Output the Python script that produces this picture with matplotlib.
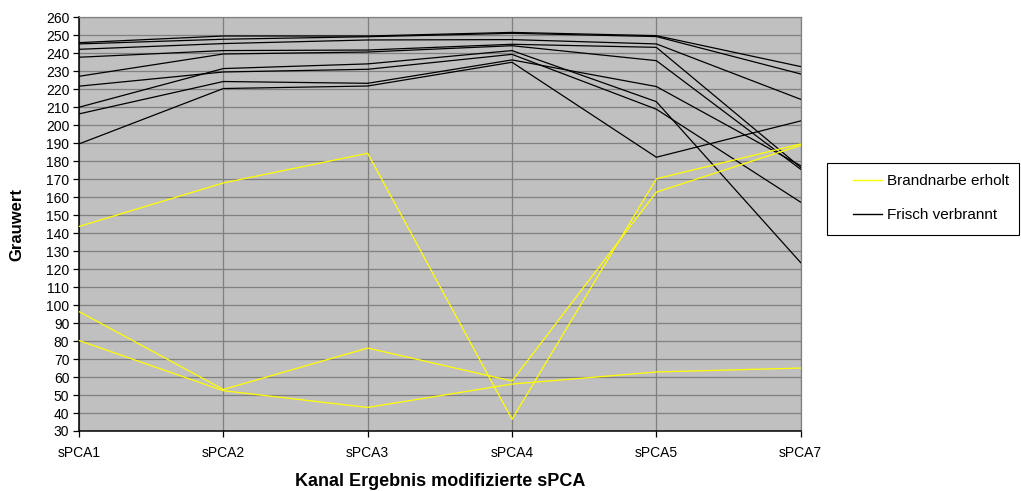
import matplotlib
matplotlib.use("Agg")
import matplotlib.pyplot as plt
from matplotlib.lines import Line2D
from matplotlib.patches import Rectangle

plt.rcParams['font.family'] = ['Liberation Sans', 'DejaVu Sans']

channels = ["sPCA1", "sPCA2", "sPCA3", "sPCA4", "sPCA5", "sPCA7"]

# Grey values of recovered burn scars (yellow)
recovered_1 = [143.7, 167.9, 184.4, 36.5, 170.2, 189.6]
recovered_2 = [96.4, 53.1, 76.1, 57.8, 162.8, 188.8]
recovered_3 = [80.3, 52.4, 43.1, 56.1, 62.8, 65.0]

# Grey values of freshly burnt areas (black)
fresh_1 = [245.9, 249.6, 249.6, 251.6, 249.8, 232.6]
fresh_2 = [245.2, 247.8, 249.2, 251.1, 249.3, 228.5]
fresh_3 = [242.2, 245.4, 247.4, 247.6, 245.2, 214.4]
fresh_4 = [237.8, 241.5, 241.8, 245.0, 243.3, 176.5]
fresh_5 = [227.2, 239.6, 240.7, 244.2, 235.9, 175.5]
fresh_6 = [221.7, 229.6, 231.1, 239.4, 208.9, 157.2]
fresh_7 = [210.0, 231.5, 234.1, 241.5, 213.1, 123.6]
fresh_8 = [206.3, 224.3, 223.3, 236.3, 221.5, 177.5]
fresh_9 = [189.6, 220.4, 221.8, 235.0, 182.2, 202.4]

recovered = [recovered_1, recovered_2, recovered_3]
fresh = [fresh_1, fresh_2, fresh_3, fresh_4, fresh_5, fresh_6, fresh_7, fresh_8, fresh_9]

y_ticks = list(range(30, 261, 10))

W, H = 1021, 491
fig = plt.figure(figsize=(W / 100, H / 100), dpi=100)
ax = fig.add_axes([79 / W, 1 - 431 / H, 721.7 / W, 413.7 / H])
ax.set_facecolor("#C0C0C0")

x = list(range(len(channels)))
for s in fresh:
    ax.plot(x, s, color="black", lw=0.9, zorder=3)
for s in recovered:
    ax.plot(x, s, color="#FFFF00", lw=0.9, zorder=3)

ax.set_xlim(0, len(channels) - 1)
ax.set_ylim(30, 260)
ax.set_yticks(y_ticks)
ax.set_xticks(x)
ax.set_xticklabels(channels)
ax.grid(True, color="#808080", lw=0.9, zorder=1)
ax.set_axisbelow(True)

for side in ("top", "right"):
    ax.spines[side].set_color("#808080")
    ax.spines[side].set_linewidth(0.9)
for side in ("left", "bottom"):
    ax.spines[side].set_color("black")
    ax.spines[side].set_linewidth(1.1)

ax.tick_params(axis="both", direction="out", length=4, width=0.9,
               labelsize=10, colors="black", pad=3)
ax.tick_params(axis="x", pad=7)

ax.set_ylabel("Grauwert", fontsize=12, fontweight="bold")
ax.yaxis.set_label_coords(-55 / 721.7, 0.5)
fig.text(440 / W, 1 - 481 / H, "Kanal Ergebnis modifizierte sPCA",
         fontsize=13, fontweight="bold", ha="center", va="center")

# Legend box
fig.patches.append(Rectangle((827 / W, 1 - 235 / H), 192 / W, 72 / H,
                             transform=fig.transFigure, facecolor="white",
                             edgecolor="black", lw=0.8, zorder=0))
handles = [Line2D([], [], color="#FFFF00", lw=1.0),
           Line2D([], [], color="black", lw=1.0)]
fig.legend(handles, ["Brandnarbe erholt", "Frisch verbrannt"],
           loc="center left", bbox_to_anchor=(853 / W, 1 - 198 / H),
           frameon=False, fontsize=11, borderpad=0, borderaxespad=0,
           handlelength=1.9, handletextpad=0.3, labelspacing=1.3)

fig.savefig("out.png", dpi=100)
